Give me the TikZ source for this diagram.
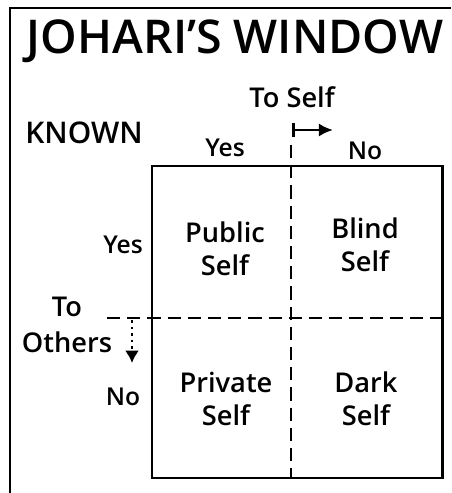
\documentclass[tikz,border=0pt]{standalone}
\usepackage{fontspec}
\setmainfont{Open Sans}[UprightFont=* Semibold]
\usetikzlibrary{arrows.meta, positioning}

\begin{document}
\begin{tikzpicture}[
  x=0.02cm, y=-0.02cm,
  frm/.style={line width=1.7pt},
  sep/.style={line width=1.7pt, dash pattern=on 7.5pt off 4pt},
  lbl/.style={font=\fontsize{15.5}{18.5}\selectfont, align=center, inner sep=0pt},
  yn/.style={font=\fontsize{14}{16}\selectfont, inner sep=0pt},
  arr/.style={line width=1.7pt, {Bar[width=8pt]}-{Latex[length=8pt, width=7.5pt]}},
  darr/.style={line width=1.7pt, dotted, -{Latex[length=7pt, width=8pt]}}
]
\useasboundingbox (0,0) rectangle (451,493);

%% outer frame (cut off at the right and bottom)
\draw[frm] (10,493) -- (10,8) -- (451,8);

%% title
\node[inner sep=0pt, font=\fontsize{26.5}{30}\selectfont] (title) at (235,41)
  {JOHARI’S WINDOW};

%% window
\coordinate (nw) at (152,166);
\coordinate (se) at (442,478);
\draw[frm] (nw) rectangle (se);
\coordinate (vtop) at (291,145);
\coordinate (vbot) at (291,478);
\coordinate (hleft) at (107,318);
\coordinate (hright) at (442,318);
\draw[sep] (vtop) -- (vbot);
\draw[sep] (hleft) -- (hright);

%% axis labels
\node[lbl, font=\fontsize{17}{20}\selectfont] (known) at (84,133) {KNOWN};
\node[lbl] (tself)  at (292,97)  {To Self};
\node[lbl, font=\fontsize{15.5}{20.5}\selectfont] (tothers) at (67,325) {To\\Others};
\node[yn] (yestop)  at (225,148) {Yes};
\node[yn] (notop)   at (365,151) {No};
\node[yn] (yesleft) at (123,245) {Yes};
\node[yn] (noleft)  at (123,397) {No};

%% arrows
\coordinate (sa) at (292,130);
\coordinate (sb) at (333,130);
\draw[arr] (sa) -- (sb);
\coordinate (oa) at (132,320);
\coordinate (ob) at (132,363);
\draw[darr] (oa) -- (ob);

%% quadrants
\node[lbl] (public)  at (225,249) {Public\\Self};
\node[lbl] (blind)   at (365,245) {Blind\\Self};
\node[lbl] (private) at (226,399) {Private\\Self};
\node[lbl] (dark)    at (366,399) {Dark\\Self};

\end{tikzpicture}
\end{document}
